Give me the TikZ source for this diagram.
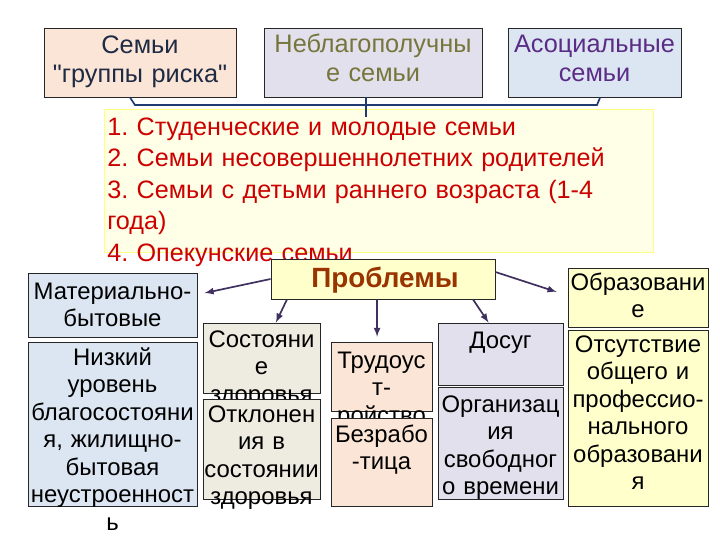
\documentclass[tikz,border=0pt]{standalone}
\usepackage{fontspec}
\setmainfont{Liberation Sans}
\newfontfamily\quotefont{Liberation Sans}
\usetikzlibrary{positioning}
\usetikzlibrary{shapes, arrows}
\frenchspacing

\definecolor{peach}{HTML}{FBE5D6}
\definecolor{lilac}{HTML}{E2E0EC}
\definecolor{paleblue}{HTML}{DCE6F2}
\definecolor{palegreen}{HTML}{EEECE1}
\definecolor{paleyellow}{HTML}{FFFFCC}
\definecolor{listyellow}{HTML}{FFFFE8}
\definecolor{listedge}{HTML}{FFFF80}
\definecolor{olivetext}{HTML}{76763C}
\definecolor{purpletext}{HTML}{5B2C86}
\definecolor{navytext}{HTML}{1F2A44}
\definecolor{redtext}{HTML}{CC0000}
\definecolor{probtext}{HTML}{993300}
\definecolor{arrowcol}{HTML}{403060}
\definecolor{bracecol}{HTML}{1F3A70}

\begin{document}
\begin{tikzpicture}[auto, x=0.025cm, y=-0.025cm]
    \tikzstyle{block}=[draw=black!85, rectangle, inner sep=0pt, line width=0.6pt]
    \tikzstyle{head}=[align=center, anchor=base, inner sep=0pt,
    font=\fontsize{18}{21.3}\selectfont]
    \tikzstyle{btext}=[align=center, anchor=base, inner sep=0pt,
    font=\fontsize{17}{19.6}\selectfont]
    \tikzstyle{line}=[-latex, draw=arrowcol, line width=1.2pt]
    \tikzstyle{bracket}=[draw=bracecol, line width=1.2pt]
    \useasboundingbox (0,0) rectangle (720,540);

    \node [block, draw=listedge, fill=listyellow, minimum width=13.725cm, minimum height=3.575cm] (list) at (378.5,180.5) {};
    \node [anchor=base west, align=left, inner sep=0pt, text width=14cm, text=redtext,
    font=\fontsize{17.9}{22.4}\selectfont] (listtext) at (107,135)
    {1. Студенческие и молодые семьи\\2. Семьи несовершеннолетних родителей\\3. Семьи с детьми раннего возраста (1-4\\года)\\4. Опекунские семьи};

    \node [block, fill=peach, minimum width=4.8cm, minimum height=1.725cm] (risk) at (140,62.5) {};
    \node [head, text=navytext, text width=4.8cm] (risktext) at (140,53) {Семьи\\{\quotefont"}группы риска{\quotefont"}};
    \node [block, fill=lilac, minimum width=5.45cm, minimum height=1.725cm] (nebl) at (373,62.5) {};
    \node [head, text=olivetext, text width=5.45cm] (nebltext) at (373,52) {Неблагополучны\\е семьи};
    \node [block, fill=paleblue, minimum width=4.325cm, minimum height=1.725cm] (asoc) at (594.5,62.5) {};
    \node [head, text=purpletext, text width=4.325cm] (asoctext) at (594.5,52) {Асоциальные\\семьи};

    \draw[bracket] ([xshift=-2.5mm]risk.south) -- (135,105) -- (597,105) -- ([xshift=1.4mm]asoc.south);
    \draw[bracket] ([xshift=-1.75mm]nebl.south) -- ++(0,20);

    \node [block, fill=paleyellow, minimum width=5.6cm, minimum height=1cm] (probl) at (383,279) {};
    \node [anchor=base, inner sep=0pt, text=probtext, font=\fontsize{19.8}{22}\selectfont\bfseries] (probltext) at (385,287) {Проблемы};

    \node [block, fill=paleblue, minimum width=4.225cm, minimum height=1.6cm] (mat) at (112.5,305) {};
    \node [btext, text width=4.225cm] (mattext) at (112.5,299) {Материально-\\бытовые};
    \node [block, fill=paleblue, minimum width=4.225cm, minimum height=4.1cm] (low) at (112.5,424) {};
    \node [btext, text width=4.225cm] (lowtext) at (112.5,365) {Низкий\\уровень\\благосостояни\\я, жилищно-\\бытовая\\неустроенност\\ь};

    \node [block, fill=palegreen, minimum width=2.925cm, minimum height=1.75cm] (health) at (261.5,358) {};
    \node [btext, text width=2.925cm] (healthtext) at (261.5,347) {Состояни\\е\\здоровья};
    \node [block, fill=palegreen, minimum width=2.925cm, minimum height=2.5cm] (devi) at (261.5,449) {};
    \node [btext, text width=2.925cm] (devitext) at (261.5,422) {Отклонен\\ия в\\состоянии\\здоровья};

    \node [block, fill=peach, minimum width=2.525cm, minimum height=1.725cm] (work) at (381.5,376.5) {};
    \node [btext, text width=2.525cm] (worktext) at (381.5,368) {Трудоус\\т-\\ройство};
    \node [block, fill=peach, minimum width=2.525cm, minimum height=2.2cm] (unemp) at (381.5,462) {};
    \node [btext, text width=2.525cm] (unemptext) at (381.5,442) {Безрабо\\-тица};

    \node [block, fill=lilac, minimum width=3.125cm, minimum height=1.55cm] (leis) at (500.5,354) {};
    \node [btext, text width=3.125cm] (leistext) at (500.5,348) {Досуг};
    \node [block, fill=lilac, minimum width=3.125cm, minimum height=2.8cm] (org) at (500.5,443) {};
    \node [btext, text width=3.125cm] (orgtext) at (500.5,412) {Организац\\ия\\свободног\\о времени};

    \node [block, fill=paleyellow, minimum width=3.5cm, minimum height=1.475cm] (edu) at (638,297.5) {};
    \node [btext, text width=3.5cm] (edutext) at (638,290) {Образовани\\е};
    \node [block, fill=paleyellow, minimum width=3.5cm, minimum height=4.4cm] (noedu) at (638,418) {};
    \node [btext, text width=3.5cm] (noedutext) at (638,352) {Отсутствие\\общего и\\профессио-\\нального\\образовани\\я};

    \draw[line] (probl.west) -- ([xshift=1.8mm,yshift=3mm]mat.east);
    \draw[line] ([xshift=-2.4cm]probl.south) -- ([xshift=3.6mm]health.north);
    \draw[line] ([xshift=-1.5mm]probl.south) -- ([xshift=-1.1mm,yshift=1.2mm]work.north);
    \draw[line] ([xshift=2.25cm]probl.south) -- ([xshift=-3mm]leis.north);
    \draw[line] ([yshift=1.75mm]probl.east) -- ([xshift=-2.75mm,yshift=1.4mm]edu.west);
\end{tikzpicture}
\end{document}
